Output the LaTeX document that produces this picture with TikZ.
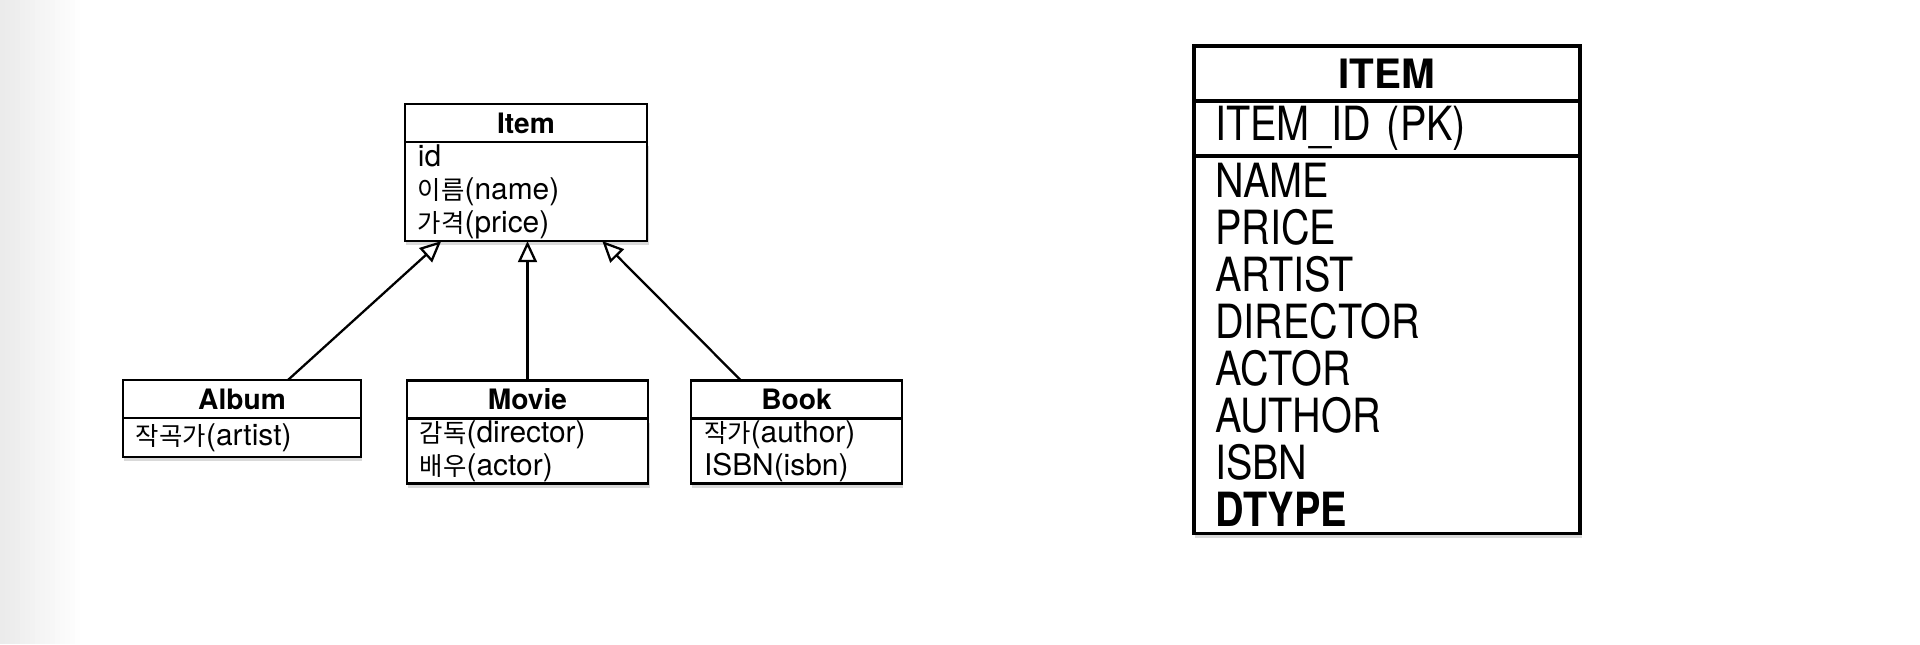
\documentclass[tikz,border=0pt]{standalone}
\usepackage{fontspec}
\setmainfont{TeX Gyre Heros}
\newfontfamily\krfont[Scale=0.85]{Noto Sans CJK KR}
\newfontfamily\tabfont[FakeStretch=0.84]{TeX Gyre Heros}
\newcommand{\kr}[1]{{\krfont #1}}
\usetikzlibrary{positioning,arrows.meta,calc,shadows}

\begin{document}
\begin{tikzpicture}[x=0.01cm, y=-0.01cm,
	cls/.style={draw, line width=0.7pt, fill=white, inner sep=0pt, outer sep=0pt,
		drop shadow={shadow xshift=0.4pt, shadow yshift=-1.2pt, opacity=0.3}},
	clshead/.style={cls, minimum height=0.38cm, font=\fontsize{8}{9.4}\selectfont\bfseries},
	clsbody/.style={cls, inner xsep=3.7pt, align=left, font=\fontsize{8.5}{9.4}\selectfont},
	inherit/.style={-{Triangle[open, length=6pt, width=5.4pt]}, line width=0.65pt},
	tab/.style={draw, line width=1pt, fill=white, inner sep=0pt, outer sep=0pt, minimum width=3.86cm,
		drop shadow={shadow xshift=0.4pt, shadow yshift=-1.4pt, opacity=0.3}},
	tabrow/.style={tab, inner xsep=6pt, text width=97.8pt, align=left,
		font=\tabfont\fontsize{13.4}{13.39}\selectfont}]
			\useasboundingbox (0, 0) rectangle (1920, 644);
			\foreach \i [evaluate=\i as \op using 0.08*(1-\i/16)] in {0,...,15}
				\fill [black, opacity=\op] (\i*5, 0) rectangle (\i*5+5, 644);

			\node [clshead, minimum width=2.42cm] (item) at (526, 123) {Item};
			\node [clsbody, below=0pt of item, text width=61.5pt, minimum height=0.99cm] (itembody)
				{id\\\kr{이름}(name)\\\kr{가격}(price)};

			\node [clshead, minimum width=2.38cm] (album) at (242, 399) {Album};
			\node [clsbody, below=0pt of album, text width=60.3pt, minimum height=0.39cm] (albumbody)
				{\kr{작곡가}(artist)};

			\node [clshead, minimum width=2.41cm] (movie) at (527.5, 399.5) {Movie};
			\node [clsbody, below=0pt of movie, text width=61.2pt, minimum height=0.65cm] (moviebody)
				{\kr{감독}(director)\\\kr{배우}(actor)};

			\node [clshead, minimum width=2.11cm] (book) at (796.5, 399.5) {Book};
			\node [clsbody, below=0pt of book, text width=52.6pt, minimum height=0.65cm] (bookbody)
				{\kr{작가}(author)\\ISBN(isbn)};

			\draw [inherit] ($(album.north west)!0.693!(album.north east)$) -- ($(itembody.south west)!0.15!(itembody.south east)$);
			\draw [inherit] (movie.north) -- (movie.north |- itembody.south);
			\draw [inherit] ($(book.north west)!0.237!(book.north east)$) -- ($(itembody.south west)!0.815!(itembody.south east)$);

			\node [tab, minimum height=0.55cm, font=\fontsize{11.5}{11.5}\selectfont\bfseries] (table) at (1387, 73.5) {ITEM};
			\node [tabrow, below=0pt of table, minimum height=0.55cm] (pk) {ITEM\_ID (PK)};
			\node [tabrow, below=0pt of pk, minimum height=3.77cm] (cols)
				{NAME\\PRICE\\ARTIST\\DIRECTOR\\ACTOR\\AUTHOR\\ISBN\\\textbf{DTYPE}};
		\end{tikzpicture}
\end{document}
